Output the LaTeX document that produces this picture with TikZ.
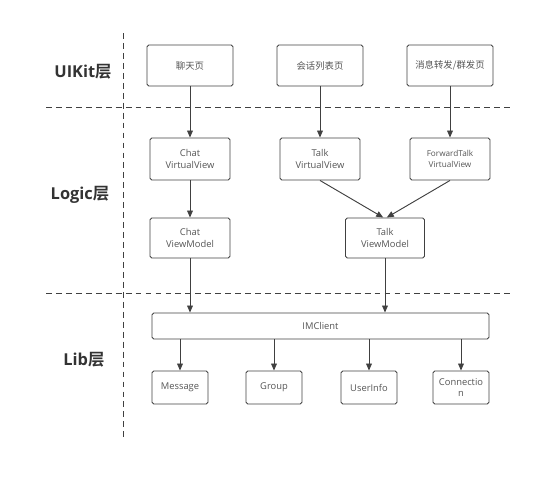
\documentclass[tikz,border=0pt]{standalone}
\usepackage{fontspec}
\setmainfont{Open Sans}
\newfontfamily\cjk{Noto Sans CJK SC}[BoldFont={Noto Sans CJK SC Bold}]
\usepackage{xcolor}
\usetikzlibrary{arrows.meta,positioning}
\definecolor{linegray}{HTML}{404040}
\definecolor{textgray}{HTML}{555555}
\definecolor{labelgray}{HTML}{333333}

\begin{document}
\begin{tikzpicture}[x=0.03cm, y=-0.03cm, line width=0.8pt,
  >={Triangle[length=6pt,width=5pt]},
  box/.style={draw=linegray, rounded corners=1.5pt, align=center, text=textgray,
    font=\fontsize{8}{10}\selectfont, inner sep=0pt},
  layer/.style={text=labelgray, font=\fontsize{14}{16}\selectfont\bfseries},
  sep/.style={draw=linegray, dash pattern=on 5pt off 3.5pt}]
  \useasboundingbox (0,0) rectangle (550,477);

  % separadores de capas
  \draw[sep] (123,33) -- (123,437);
  \draw[sep] (46,107) -- (511,107);
  \draw[sep] (46,293) -- (511,293);

  % nombres de capas
  \node[layer] (uikit) at (83,72) {UIKit{\cjk 层}};
  \node[layer] (logic) at (80,195) {Logic{\cjk 层}};
  \node[layer] (lib) at (84,360) {Lib{\cjk 层}};

  % UIKit
  \node[box, minimum width=2.58cm, minimum height=1.23cm] (chatpage) at (190,65.5) {\cjk 聊天页};
  \node[box, minimum width=2.58cm, minimum height=1.23cm] (talkpage) at (320,65.5) {\cjk 会话列表页};
  \node[box, minimum width=2.58cm, minimum height=1.23cm] (fwdpage) at (450,65.5) {\cjk 消息转发/群发页};

  % Logic
  \node[box, minimum width=2.4cm, minimum height=1.26cm] (chatvv) at (190,159) {Chat\\VirtualView};
  \node[box, minimum width=2.4cm, minimum height=1.26cm] (talkvv) at (320,159) {Talk\\VirtualView};
  \node[box, minimum width=2.4cm, minimum height=1.26cm,
    font=\fontsize{7}{9}\selectfont] (fwdvv) at (450,159) {ForwardTalk\\VirtualView};
  \node[box, minimum width=2.4cm, minimum height=1.2cm] (chatvm) at (190,238) {Chat\\ViewModel};
  \node[box, minimum width=2.37cm, minimum height=1.2cm] (talkvm) at (385,238) {Talk\\ViewModel};

  % Lib
  \node[box, minimum width=10.11cm, minimum height=0.78cm] (imc) at (320.5,326) {IMClient};
  \node[box, minimum width=1.68cm, minimum height=0.99cm] (msg) at (180,387.5) {Message};
  \node[box, minimum width=1.68cm, minimum height=0.99cm] (grp) at (274,387.5) {Group};
  \node[box, minimum width=1.68cm, minimum height=0.99cm] (uinfo) at (369,387.5) {UserInfo};
  \node[box, minimum width=1.68cm, minimum height=0.99cm] (conn) at (461,387.5) {Connectio\\n};

  % UIKit -> Logic
  \draw[->, linegray] (chatpage) -- (chatvv);
  \draw[->, linegray] (talkpage) -- (talkvv);
  \draw[->, linegray] (fwdpage) -- (fwdvv);

  % Logic
  \draw[->, linegray] (chatvv) -- (chatvm);
  \draw[->, linegray] (talkvv.south) -- ([xshift=-1.5pt]talkvm.north);
  \draw[->, linegray] (fwdvv.south) -- ([xshift=1.5pt]talkvm.north);

  % Logic -> Lib
  \draw[->, linegray] (chatvm.south) -- (chatvm.south |- imc.north);
  \draw[->, linegray] (talkvm.south) -- (talkvm.south |- imc.north);
  \draw[->, linegray] (imc.south -| msg.north) -- (msg.north);
  \draw[->, linegray] (imc.south -| grp.north) -- (grp.north);
  \draw[->, linegray] (imc.south -| uinfo.north) -- (uinfo.north);
  \draw[->, linegray] (imc.south -| conn.north) -- (conn.north);
\end{tikzpicture}
\end{document}
